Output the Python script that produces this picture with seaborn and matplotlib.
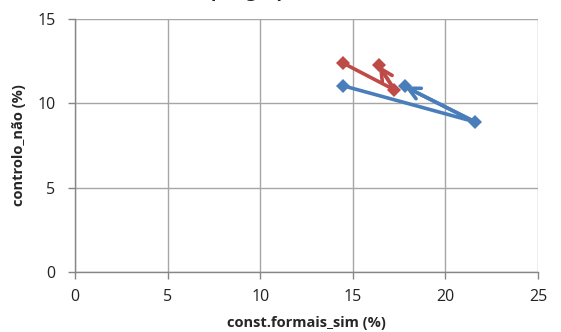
import matplotlib
matplotlib.use("Agg")
import matplotlib.pyplot as plt
import seaborn as sns
import pandas as pd

# data
group_a_x = [14.45, 21.6, 17.8]
group_a_y = [11.05, 8.9, 11.0]
group_b_x = [14.45, 17.25, 16.4]
group_b_y = [12.4, 10.8, 12.25]
x_ticks = [0, 5, 10, 15, 20, 25]
y_ticks = [0, 5, 10, 15]

sns.set_theme(style="white")
plt.rcParams['font.family'] = ['Open Sans', 'DejaVu Sans']

colors = {"A": "#4A7EBB", "B": "#BE4B48"}

df = pd.DataFrame({
    "x": group_a_x + group_b_x,
    "y": group_a_y + group_b_y,
    "grupo": ["A"] * len(group_a_x) + ["B"] * len(group_b_x),
})

fig = plt.figure(figsize=(5.61, 3.32), dpi=100)
ax = fig.add_axes([75 / 561, 1 - 272 / 332, (538 - 75) / 561, (272 - 19) / 332])

sns.lineplot(data=df, x="x", y="y", hue="grupo", palette=colors, sort=False,
             estimator=None, units="grupo", marker="D", markersize=7.5,
             markeredgewidth=0, linewidth=2.6, legend=False, ax=ax, zorder=3)

for gx, gy, g in [(group_a_x, group_a_y, "A"), (group_b_x, group_b_y, "B")]:
    ax.annotate("", xy=(gx[-1], gy[-1]), xytext=(gx[-2], gy[-2]),
                arrowprops=dict(arrowstyle="->,head_length=0.7,head_width=0.35",
                                color=colors[g], lw=2.6, shrinkA=0, shrinkB=0),
                zorder=2)

ax.set_xlim(0, 25)
ax.set_ylim(0, 15)
ax.set_xticks(x_ticks)
ax.set_yticks(y_ticks)
ax.grid(True, color="#A6A6A6", linewidth=1.0)
ax.set_axisbelow(True)
for side in ["top", "right"]:
    ax.spines[side].set_visible(False)
for side in ["left", "bottom"]:
    ax.spines[side].set_color("#868686")
    ax.spines[side].set_linewidth(1.0)
ax.tick_params(axis="both", which="both", length=5, width=1, color="#868686",
               direction="out", labelsize=11.5, labelcolor="#222222",
               bottom=True, left=True)
ax.tick_params(axis="x", pad=7)
ax.tick_params(axis="y", pad=9)
ax.set_xlabel("const.formais_sim (%)", fontsize=10.5, fontweight="bold", labelpad=8)
ax.set_ylabel("controlo_não (%)", fontsize=10.5, fontweight="bold", labelpad=8)

fig.text(211 / 561, 1 + 2.5 / 332, "por grupo", fontsize=13, fontweight="bold",
         ha="left", va="baseline")

fig.savefig("out.png", dpi=100)
